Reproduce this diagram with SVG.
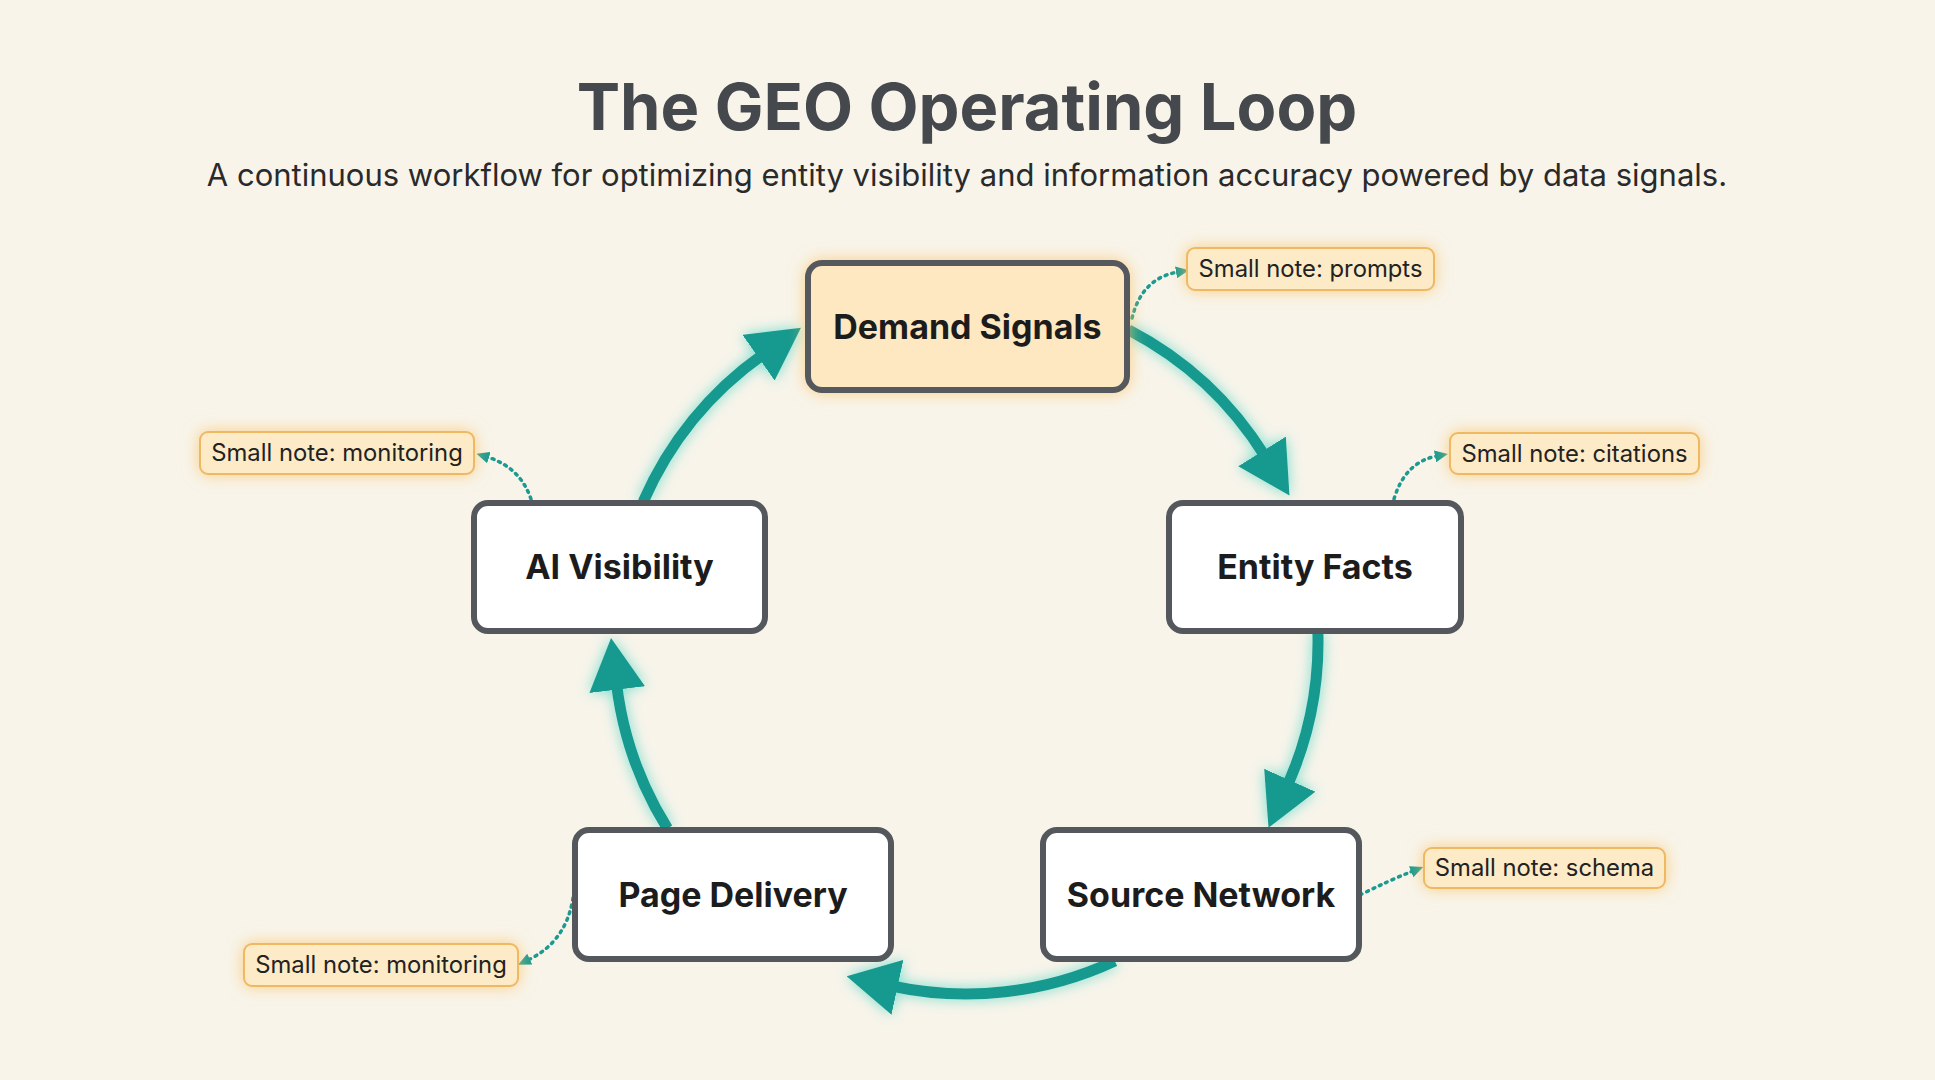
<svg xmlns="http://www.w3.org/2000/svg" width="1935" height="1080" viewBox="0 0 1935 1080">
<defs>
<style>
.title{font-family:Inter,"Noto Sans","Liberation Sans",sans-serif;font-weight:700;font-size:65px;fill:#45484c;text-anchor:middle}
.sub{font-family:Inter,"Noto Sans","Liberation Sans",sans-serif;font-weight:400;font-size:31px;fill:#2a2a2a;text-anchor:middle}
.box{fill:#ffffff;stroke:#54585c;stroke-width:6}
.hot{fill:#fde8c2;stroke:#54585c;stroke-width:6}
.lbl{font-family:Inter,"Noto Sans","Liberation Sans",sans-serif;font-weight:700;font-size:34px;fill:#1c1c1c;text-anchor:middle}
.note{fill:#fdeac6;stroke:#efb862;stroke-width:2}
.ntxt{font-family:Inter,"Noto Sans","Liberation Sans",sans-serif;font-weight:400;font-size:23.8px;fill:#222;text-anchor:middle}
.flow{fill:none;stroke:#17998e;stroke-width:11}
.dot{fill:none;stroke:#1a9a90;stroke-width:3.5;stroke-dasharray:2 5;stroke-linecap:round}
</style>
<filter id="tglow" x="-30%" y="-30%" width="160%" height="160%">
<feGaussianBlur in="SourceAlpha" stdDeviation="7" result="b"/>
<feFlood flood-color="#5fd8ca" flood-opacity="0.85"/>
<feComposite in2="b" operator="in" result="g"/>
<feMerge><feMergeNode in="g"/><feMergeNode in="SourceGraphic"/></feMerge>
</filter>
<filter id="oglow" x="-20%" y="-50%" width="140%" height="200%">
<feGaussianBlur in="SourceAlpha" stdDeviation="8" result="b"/>
<feFlood flood-color="#f8c46a" flood-opacity="0.8"/>
<feComposite in2="b" operator="in" result="g"/>
<feMerge><feMergeNode in="g"/><feMergeNode in="SourceGraphic"/></feMerge>
</filter>
<marker id="big" viewBox="0 0 52 56" refX="6" refY="28" markerWidth="52" markerHeight="56" markerUnits="userSpaceOnUse" orient="auto">
<path d="M0,0 L52,28 L0,56 z" fill="#17998e"/>
</marker>
<marker id="small" viewBox="0 0 13 12" refX="2" refY="6" markerWidth="13" markerHeight="12" markerUnits="userSpaceOnUse" orient="auto">
<path d="M0,0 L13,6 L0,12 z" fill="#1a9a90"/>
</marker>
</defs>
<rect width="1935" height="1080" fill="#f8f4ea"/>
<text class="title" x="967" y="130">The GEO Operating Loop</text>
<text class="sub" x="967" y="186">A continuous workflow for optimizing entity visibility and information accuracy powered by data signals.</text>

<g id="connectors">
<g filter="url(#tglow)">
<path class="flow" d="M643.2,501.7 A352,352 0 0 1 763.4,354.2" marker-end="url(#big)"/>
<path class="flow" d="M1128.5,329.8 A352,352 0 0 1 1265.2,456.5" marker-end="url(#big)"/>
<path class="flow" d="M1317.9,632.8 A352,352 0 0 1 1287.3,785.7" marker-end="url(#big)"/>
<path class="flow" d="M1114.8,961 A352,352 0 0 1 891.6,986" marker-end="url(#big)"/>
<path class="flow" d="M667.5,828.5 A352,352 0 0 1 616.5,683.7" marker-end="url(#big)"/>
</g>
<path class="dot" d="M1132,318 Q1142,278 1178,272" marker-end="url(#small)"/>
<path class="dot" d="M1394,499 Q1405,462 1437,456" marker-end="url(#small)"/>
<path class="dot" d="M531,499 Q520,467 487,457" marker-end="url(#small)"/>
<path class="dot" d="M573,898 Q566,942 528,960" marker-end="url(#small)"/>
<path class="dot" d="M1360,895 Q1390,880 1413,871" marker-end="url(#small)"/>
</g>

<g id="demand-signals">
<rect class="hot" x="808" y="263" width="319" height="127" rx="14" filter="url(#oglow)"/>
<text class="lbl" x="967.5" y="339">Demand Signals</text>
</g>
<g id="entity-facts">
<rect class="box" x="1169" y="503" width="292" height="128" rx="14"/>
<text class="lbl" x="1315" y="579">Entity Facts</text>
</g>
<g id="source-network">
<rect class="box" x="1043" y="830" width="316" height="129" rx="14"/>
<text class="lbl" x="1201" y="907">Source Network</text>
</g>
<g id="page-delivery">
<rect class="box" x="575" y="830" width="316" height="129" rx="14"/>
<text class="lbl" x="733" y="907">Page Delivery</text>
</g>
<g id="ai-visibility">
<rect class="box" x="474" y="503" width="291" height="128" rx="14"/>
<text class="lbl" x="619.5" y="579">AI Visibility</text>
</g>

<g id="note-prompts">
<rect class="note" x="1187" y="248" width="247" height="42" rx="8" filter="url(#oglow)"/>
<text class="ntxt" x="1310.5" y="277">Small note: prompts</text>
</g>
<g id="note-citations">
<rect class="note" x="1450" y="433" width="249" height="41" rx="8" filter="url(#oglow)"/>
<text class="ntxt" x="1574.5" y="462">Small note: citations</text>
</g>
<g id="note-monitoring-top">
<rect class="note" x="200" y="432" width="274" height="42" rx="8" filter="url(#oglow)"/>
<text class="ntxt" x="337" y="461">Small note: monitoring</text>
</g>
<g id="note-schema">
<rect class="note" x="1424" y="848" width="241" height="40" rx="8" filter="url(#oglow)"/>
<text class="ntxt" x="1544.5" y="876">Small note: schema</text>
</g>
<g id="note-monitoring-bottom">
<rect class="note" x="244" y="944" width="274" height="42" rx="8" filter="url(#oglow)"/>
<text class="ntxt" x="381" y="973">Small note: monitoring</text>
</g>
</svg>
